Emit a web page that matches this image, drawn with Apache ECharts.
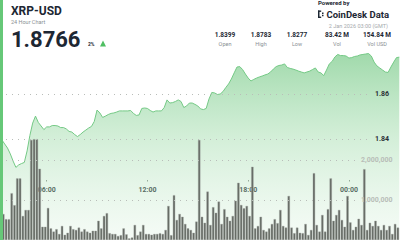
<!DOCTYPE html>
<html><head><meta charset="utf-8">
<script src="https://cdn.jsdelivr.net/npm/echarts@6/dist/echarts.min.js"></script>
<style>html,body{margin:0;padding:0;background:#fff;}#c{width:400px;height:240px;}</style>
</head><body><div id="c"></div>
<script>
// ---- data ----
const startMinute = 180;          // 03:00, 1 Jan 2026 (GMT)
const stepMinutes = 10;
const priceValues = [1.8402,1.8402,1.8398,1.8380,1.8362,1.8336,1.8304,1.8276,1.8287,1.8293,
1.8298,1.8349,1.8418,1.8473,1.8504,1.8476,1.8460,1.8444,1.8456,1.8456,
1.8462,1.8462,1.8460,1.8453,1.8453,1.8447,1.8436,1.8433,1.8422,1.8413,
1.8422,1.8433,1.8442,1.8451,1.8458,1.8480,1.8531,1.8518,1.8498,1.8504,
1.8511,1.8516,1.8518,1.8522,1.8527,1.8527,1.8527,1.8527,1.8529,1.8516,
1.8507,1.8509,1.8538,1.8540,1.8538,1.8529,1.8522,1.8527,1.8527,1.8527,
1.8542,1.8576,1.8562,1.8564,1.8569,1.8576,1.8569,1.8542,1.8549,1.8562,
1.8562,1.8556,1.8549,1.8536,1.8533,1.8538,1.8580,1.8609,1.8607,1.8600,
1.8602,1.8613,1.8631,1.8647,1.8669,1.8696,1.8722,1.8724,1.8711,1.8691,
1.8673,1.8660,1.8667,1.8673,1.8678,1.8682,1.8687,1.8691,1.8700,1.8713,
1.8724,1.8729,1.8731,1.8736,1.8720,1.8716,1.8713,1.8709,1.8704,1.8700,
1.8696,1.8700,1.8704,1.8711,1.8718,1.8700,1.8696,1.8684,1.8709,1.8736,
1.8747,1.8767,1.8778,1.8773,1.8773,1.8771,1.8762,1.8764,1.8769,1.8771,
1.8776,1.8778,1.8780,1.8782,1.8771,1.8744,1.8727,1.8718,1.8709,1.8700,
1.8698,1.8722,1.8744,1.8764,1.8766];
// volume per 10-minute bar, in millions
const volumeMillions = [0.6,0.6,0.65,0.52,0.52,1.17,0.87,1.54,1.54,0.6,
0.75,0.75,2.5,2.52,2.52,1.78,0.33,0.33,0.8,0.29,
0.21,0.27,0.15,0.35,0.13,0.18,0.35,0.27,0.25,0.31,
0.21,0.27,0.21,0.18,0.23,0.23,0.48,0.29,0.6,0.67,
0.17,0.15,0.15,0.1,0.12,0.29,0.14,0.04,0.06,0.375,
0.12,0.21,0.375,0.15,0.15,0.13,0.15,0.15,0.17,0.15,
0.25,0.85,0.12,1.12,0.5,0.65,0.58,0.4,0.29,0.25,
0.18,0.46,2.5,0.58,0.43,1.21,0.375,0.82,0.68,0.96,
0.4,0.77,0.58,0.48,0.6,0.98,1.43,0.875,0.79,0.85,
0.6,1.83,0.29,0.35,0.58,0.25,0.21,0.29,0.4,0.52,
0.42,0.75,0.35,0.31,1.1,0.31,0.17,0.31,0.18,0.17,
0.4,0.125,0.25,1.67,0.375,0.21,0.625,0.21,0.77,1.54,
0.48,0.625,0.75,0.5,0.33,1.1,0.44,0.25,0.33,0.53,
0.375,1.77,0.25,0.43,0.35,0.48,0.35,0.25,0.375,0.25,
0.35,0.15,0.4,0.31];
const timeTicks = [360, 720, 1080, 1440];
const priceTicks = [1.84, 1.86];
const volumeTicks = [1000000, 2000000];
const statValues = ['1.8399','1.8783','1.8277','83.42 M','154.84 M'];
const statLabels = ['Open','High','Low','Vol','Vol USD'];
const symbolName = 'XRP-USD';
const subTitle = '24 Hour Chart';
const lastPrice = '1.8766';
const changeText = '2%';
const dateText = '2 Jan 2026 03:00 (GMT)';

// ---- layout ----
const X_MIN = 193.2, X_MAX = 1622.5;
const PRICE_MIN = 1.79533, PRICE_MAX = 1.88422;
const VOL_MAX = 5000000;
const FONT = 'Roboto, "Liberation Sans", sans-serif';
const pad = n => String(n).padStart(2,'0');
const fmtTime = v => pad(Math.floor(v/60)%24) + ':' + pad(Math.round(v%60));

const priceData = priceValues.map((p,i)=>[startMinute + i*stepMinutes, p]);
const volData = volumeMillions.map((v,i)=>[startMinute + i*stepMinutes + stepMinutes/2, v*1e6]);

const dotted = {type:[1,5], color:'#b9bdb9', width:1};
const priceLines = priceTicks.map(t=>[
  {coord:[X_MIN, t], label:{formatter: t.toFixed(2)}},
  {coord:[1519, t]}
]);
const volLines = volumeTicks.map(t=>[
  {coord:[X_MIN, t], label:{formatter: t.toLocaleString('en-US')}},
  {coord:[1469, t]}
]);

const graphics = [
  {type:'rect', shape:{x:0,y:0,width:3,height:240}, style:{fill:'#66c878'}, z:100},
  {type:'text', x:11, y:5, style:{text:symbolName, font:'bold 12px '+FONT, fill:'#1d2733'}},
  {type:'text', x:11, y:18.5, style:{text:subTitle, font:'5.5px '+FONT, fill:'#8a8f94'}},
  {type:'text', x:11, y:28.5, style:{text:lastPrice, font:'bold 22px '+FONT, fill:'#1d2733'}},
  {type:'text', x:88, y:41.5, style:{text:changeText, font:'bold 5px '+FONT, fill:'#1d2733'}},
  {type:'polygon', shape:{points:[[100,46.5],[106,46.5],[103,40.5]]}, style:{fill:'#4fbf62'}},
  {type:'text', x:318, y:-1, style:{text:'Powered by', font:'bold 6px '+FONT, fill:'#1d2733'}},
  // logo mark
  {type:'rect', shape:{x:318,y:10.5,width:1.5,height:7.5}, style:{fill:'#1d2733'}},
  {type:'rect', shape:{x:318,y:10.5,width:3.2,height:1.4}, style:{fill:'#1d2733'}},
  {type:'rect', shape:{x:318,y:16.6,width:3.2,height:1.4}, style:{fill:'#1d2733'}},
  {type:'rect', shape:{x:322,y:12.6,width:1.5,height:1.5}, style:{fill:'#1d2733'}},
  {type:'rect', shape:{x:322,y:14.8,width:1.5,height:1.5}, style:{fill:'#1d2733'}},
  {type:'text', x:326.5, y:9.5, style:{text:'CoinDesk Data', font:'bold 9.5px '+FONT, fill:'#1d2733'}},
  {type:'text', x:388, y:22.5, style:{text:dateText, font:'5.5px '+FONT, fill:'#a5a9ad', align:'right'}}
];
const statCenters = [225, 261, 297, 337, 377];
statValues.forEach((v,i)=>{
  graphics.push({type:'text', x:statCenters[i], y:31.5, style:{text:v, font:'bold 6.5px '+FONT, fill:'#1d2733', align:'center'}});
  graphics.push({type:'text', x:statCenters[i], y:40.5, style:{text:statLabels[i], font:'5.5px '+FONT, fill:'#8a8f94', align:'center'}});
});

const chart = echarts.init(document.getElementById('c'), null, {renderer:'svg'});
chart.setOption({
  animation:false,
  backgroundColor:'#ffffff',
  grid:[
    {left:0, right:0, top:40, bottom:0},
    {left:0, right:0, top:40, bottom:60}
  ],
  xAxis:[
    {type:'value', gridIndex:0, min:X_MIN, max:X_MAX, show:false},
    {type:'value', gridIndex:1, min:X_MIN, max:X_MAX, position:'bottom',
      axisLine:{show:false}, splitLine:{show:false},
      axisTick:{show:true, customValues:timeTicks, length:1.5, lineStyle:{color:'#8a8f8a', width:1}},
      axisLabel:{show:true, customValues:timeTicks, formatter:fmtTime, margin:6,
        fontFamily:FONT, fontSize:7, fontWeight:'bold', color:'#2a2f35'}}
  ],
  yAxis:[
    {type:'value', gridIndex:0, min:PRICE_MIN, max:PRICE_MAX, show:false},
    {type:'value', gridIndex:0, min:0, max:VOL_MAX, show:false},
    {type:'value', gridIndex:1, min:0, max:1, show:false}
  ],
  graphic: graphics,
  series:[
    {type:'line', xAxisIndex:0, yAxisIndex:0, data:priceData, showSymbol:false, z:1,
      lineStyle:{color:'#74c985', width:1},
      areaStyle:{color:new echarts.graphic.LinearGradient(0,0,0,1,[
        {offset:0, color:'rgba(96,192,114,0.85)'},
        {offset:0.45, color:'rgba(150,216,162,0.6)'},
        {offset:1, color:'rgba(214,240,218,0.35)'}])},
      markLine:{silent:true, symbol:'none', lineStyle:dotted, data:priceLines,
        label:{position:'end', distance:4, fontFamily:FONT, fontSize:7, fontWeight:'bold', color:'#2a2f35'}}
    },
    {type:'bar', xAxisIndex:0, yAxisIndex:1, data:volData, barWidth:2.3, z:2,
      itemStyle:{color:'#646963', borderColor:'#9ea49e', borderWidth:0.4},
      markLine:{silent:true, symbol:'none', lineStyle:dotted, data:volLines,
        label:{position:'end', distance:4, fontFamily:FONT, fontSize:7, fontWeight:'bold', color:'#b8bdb8'}}
    }
  ]
});
</script></body></html>
